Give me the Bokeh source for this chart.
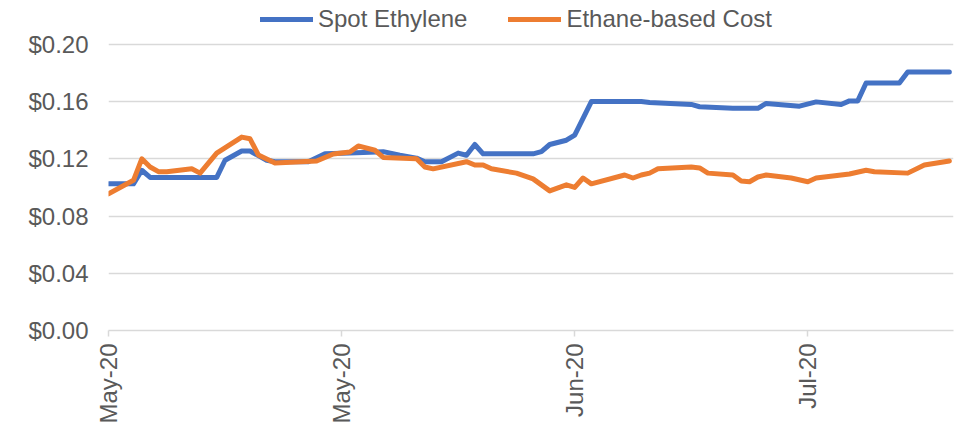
import math
import pandas as pd
from bokeh.plotting import figure
from bokeh.models import (Legend, LegendItem, FixedTicker, DatetimeTickFormatter,
                          NumeralTickFormatter, Range1d)
from bokeh.embed import file_html
from bokeh.resources import INLINE

# ---- data ----
spot_dates = ["2020-05-01", "2020-05-04", "2020-05-05", "2020-05-06", "2020-05-14",
              "2020-05-15", "2020-05-17", "2020-05-18", "2020-05-20", "2020-05-21",
              "2020-05-25", "2020-05-27", "2020-05-30", "2020-06-03", "2020-06-05",
              "2020-06-07", "2020-06-08", "2020-06-10", "2020-06-12", "2020-06-13",
              "2020-06-14", "2020-06-15", "2020-06-21", "2020-06-22", "2020-06-23",
              "2020-06-25", "2020-06-26", "2020-06-28", "2020-07-04", "2020-07-05",
              "2020-07-10", "2020-07-11", "2020-07-15", "2020-07-18", "2020-07-19",
              "2020-07-23", "2020-07-25", "2020-07-28", "2020-07-29", "2020-07-30",
              "2020-07-31", "2020-08-04", "2020-08-05", "2020-08-10"]
spot_values = [0.1025, 0.1025, 0.112, 0.107, 0.107,
               0.119, 0.1255, 0.1255, 0.119, 0.118,
               0.118, 0.1235, 0.124, 0.125, 0.1225,
               0.1205, 0.118, 0.118, 0.124, 0.1225,
               0.130, 0.1235, 0.1235, 0.125, 0.130,
               0.133, 0.1366, 0.160, 0.160, 0.1594,
               0.158, 0.1564, 0.1553, 0.1553, 0.1587,
               0.1568, 0.1598, 0.158, 0.1605, 0.1605,
               0.173, 0.173, 0.1807, 0.1807]

cost_dates = ["2020-05-01", "2020-05-04", "2020-05-05", "2020-05-06", "2020-05-07",
              "2020-05-08", "2020-05-11", "2020-05-12", "2020-05-14", "2020-05-17",
              "2020-05-18", "2020-05-19", "2020-05-21", "2020-05-26", "2020-05-28",
              "2020-05-30", "2020-05-31", "2020-06-02", "2020-06-03", "2020-06-07",
              "2020-06-08", "2020-06-09", "2020-06-13", "2020-06-14", "2020-06-15",
              "2020-06-16", "2020-06-19", "2020-06-21", "2020-06-23", "2020-06-25",
              "2020-06-26", "2020-06-27", "2020-06-28", "2020-07-02", "2020-07-03",
              "2020-07-04", "2020-07-05", "2020-07-06", "2020-07-10", "2020-07-11",
              "2020-07-12", "2020-07-15", "2020-07-16", "2020-07-17", "2020-07-18",
              "2020-07-19", "2020-07-22", "2020-07-24", "2020-07-25", "2020-07-29",
              "2020-07-31", "2020-08-01", "2020-08-05", "2020-08-07", "2020-08-10"]
cost_values = [0.0955, 0.105, 0.120, 0.1143, 0.111,
               0.111, 0.113, 0.110, 0.124, 0.1352,
               0.134, 0.1227, 0.117, 0.1185, 0.1234,
               0.1248, 0.129, 0.126, 0.121, 0.120,
               0.1143, 0.113, 0.118, 0.1157, 0.1157,
               0.113, 0.110, 0.106, 0.0976, 0.1018,
               0.100, 0.1066, 0.1025, 0.1087, 0.1066,
               0.1087, 0.110, 0.113, 0.1143, 0.1136,
               0.110, 0.1087, 0.1045, 0.104, 0.1073,
               0.1087, 0.1066, 0.104, 0.1066, 0.1094,
               0.112, 0.111, 0.110, 0.1157, 0.1185]

series_names = ["Spot Ethylene", "Ethane-based Cost"]
tick_dates = ["2020-05-01", "2020-05-29", "2020-06-26", "2020-07-24"]
y_ticks = [0.0, 0.04, 0.08, 0.12, 0.16, 0.20]

# ---- styling ----
BLUE = "#4472C4"
ORANGE = "#ED7D31"
TEXT = "#595959"
GRID = "#D9D9D9"
FONT = "Liberation Sans"


def to_ms(d):
    return pd.Timestamp(d).value / 10**6


x_spot = [to_ms(d) for d in spot_dates]
x_cost = [to_ms(d) for d in cost_dates]
x_start = to_ms("2020-05-01")
x_end = x_start + 101.5 * 86400000

# plot area: y=0 at 331 px, 0.20 at 44 px; extend the range up to the top edge
# so the legend can sit inside the frame above the top gridline
frame_bottom_px = 331
px_per_unit = (331 - 44) / 0.20
y_top = 0.20 + 44 / px_per_unit

p = figure(width=967, height=426, x_axis_type="datetime",
           output_backend="svg", toolbar_location=None,
           x_range=Range1d(x_start, x_end), y_range=Range1d(0, y_top),
           min_border_left=108, min_border_right=14,
           min_border_top=0, min_border_bottom=95)
p.outline_line_color = None
p.background_fill_color = "white"
p.border_fill_color = "white"

r1 = p.line(x_spot, spot_values, line_color=BLUE, line_width=5, line_join="round", line_cap="round")
r2 = p.line(x_cost, cost_values, line_color=ORANGE, line_width=5, line_join="round", line_cap="round")

# grid
p.xgrid.grid_line_color = None
p.ygrid.grid_line_color = GRID
p.ygrid.grid_line_width = 1.5

# y axis
p.yaxis.ticker = FixedTicker(ticks=y_ticks)
p.yaxis.formatter = NumeralTickFormatter(format="$0.00")
p.yaxis.axis_line_color = None
p.yaxis.major_tick_line_color = None
p.yaxis.minor_tick_line_color = None
p.yaxis.major_tick_out = 0
p.yaxis.major_tick_in = 0
p.yaxis.major_label_standoff = 20
p.yaxis.major_label_text_font = FONT
p.yaxis.major_label_text_font_size = "24px"
p.yaxis.major_label_text_color = TEXT

# x axis
p.xaxis.ticker = FixedTicker(ticks=[to_ms(d) for d in tick_dates])
fmt = "%b-%y"
p.xaxis.formatter = DatetimeTickFormatter(
    microseconds=fmt, milliseconds=fmt, seconds=fmt, minsec=fmt, minutes=fmt,
    hourmin=fmt, hours=fmt, days=fmt, months=fmt, years=fmt)
p.xaxis.axis_line_color = GRID
p.xaxis.axis_line_width = 1.5
p.xaxis.major_tick_line_color = GRID
p.xaxis.major_tick_line_width = 1.5
p.xaxis.major_tick_out = 6
p.xaxis.major_tick_in = 0
p.xaxis.minor_tick_line_color = None
p.xaxis.major_label_orientation = math.pi / 2
p.xaxis.major_label_standoff = 7
p.xaxis.major_label_text_font = FONT
p.xaxis.major_label_text_font_size = "24px"
p.xaxis.major_label_text_color = TEXT

# legend inside the (extended) frame, above the top gridline
legend = Legend(items=[LegendItem(label=series_names[0], renderers=[r1]),
                       LegendItem(label=series_names[1], renderers=[r2])],
                orientation="horizontal", location=(152, 297),
                padding=0, margin=0, spacing=41,
                glyph_width=53, glyph_height=28, label_standoff=5,
                label_text_font=FONT, label_text_font_size="24px",
                label_text_color=TEXT, label_height=28,
                border_line_color=None, background_fill_alpha=0)
p.add_layout(legend)

open("out.html", "w").write(file_html(p, INLINE))
